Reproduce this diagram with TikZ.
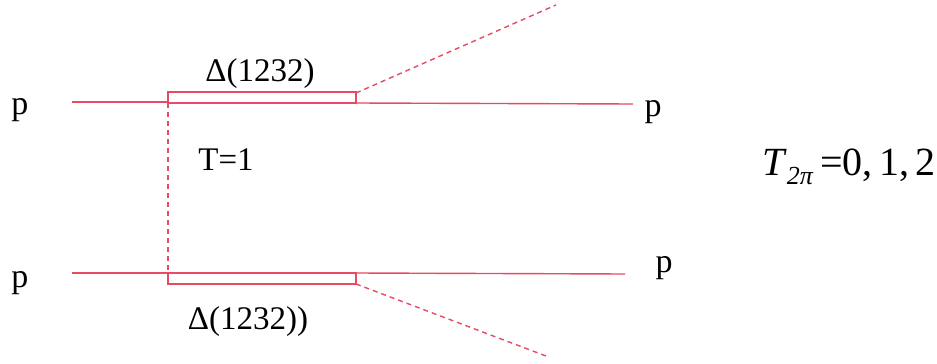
\documentclass[tikz,border=0pt]{standalone}
\usepackage{fontspec}
\setmainfont{Liberation Serif}
\definecolor{lred}{RGB}{230,75,100}
\begin{document}
\begin{tikzpicture}[x=1pt,y=-1pt,
  ln/.style={draw=lred,line width=1.4pt},
  dsh/.style={draw=lred,line width=1.4pt,dash pattern=on 5pt off 4pt},
  lbl/.style={font=\fontsize{33}{35}\selectfont,inner sep=0pt},
  plbl/.style={font=\fontsize{34}{36}\selectfont,inner sep=0pt}]
\useasboundingbox (0,0) rectangle (937,364);
% coordinates
\coordinate (tl) at (72,102);
\coordinate (tb1) at (168,92);
\coordinate (tb2) at (356,103);
\coordinate (tr) at (633,104);
\coordinate (bl) at (72,273);
\coordinate (bb1) at (168,273);
\coordinate (bb2) at (356,284);
\coordinate (br) at (625,274);
\coordinate (te) at (556,5);
\coordinate (be) at (546,356);
% top
\draw[ln] (tl) -- (168,102);
\draw[ln] (tb1) rectangle (tb2);
\draw[ln] (356,103) -- (tr);
\draw[dsh] (356,93) -- (te);
% bottom
\draw[ln] (bl) -- (bb1);
\draw[ln] (bb1) rectangle (bb2);
\draw[ln] (356,273) -- (br);
\draw[dsh] (bb2) -- (be);
% exchange
\draw[dsh] (168,103) -- (bb1);
% labels
\node[plbl] (p1) at (20,110) {p};
\node[plbl] (p2) at (653,112) {p};
\node[plbl] (p3) at (20,283) {p};
\node[plbl] (p4) at (664,268) {p};
\node[lbl] (d1) at (260,74) {Δ(1232)};
\node[lbl] (d2) at (248,322) {Δ(1232))};
\node[lbl] (t1) at (226,160) {T=1};
\node[lbl,font=\fontsize{40}{42}\selectfont,anchor=base west] (t2) at (762,175)
  {\textit{T}\raisebox{-9pt}{\fontsize{26}{26}\selectfont\textit{2π}}\,=0,\,1,\,2};
\end{tikzpicture}
\end{document}
